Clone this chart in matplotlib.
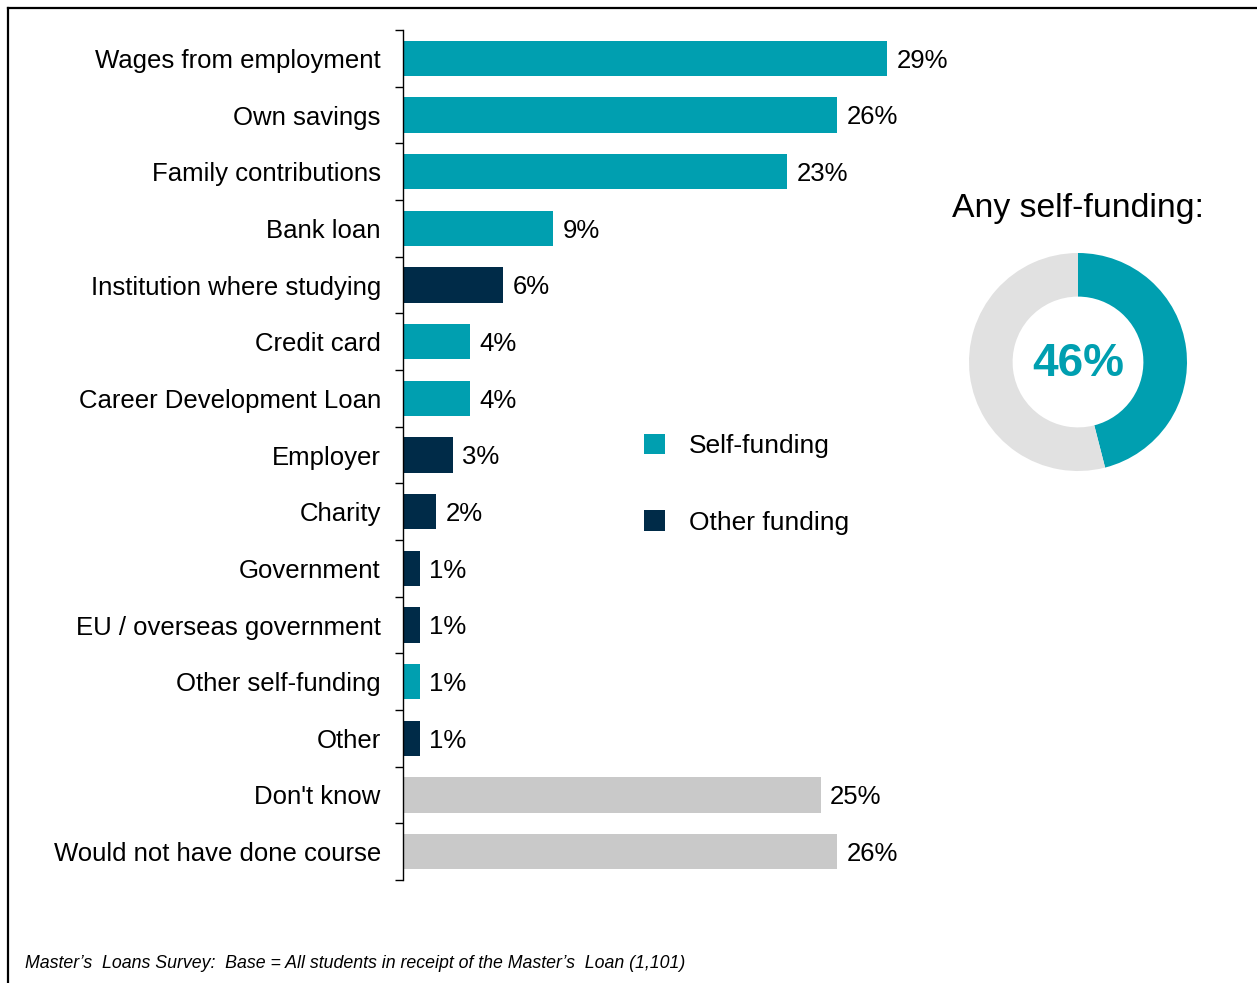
import numpy as np
import matplotlib
matplotlib.use("Agg")
import matplotlib.pyplot as plt
from matplotlib.lines import Line2D
from matplotlib.patches import Patch

plt.rcParams["font.family"] = ["Liberation Sans", "DejaVu Sans"]

# ─────────────────────────────────────────────
# DATA
# ─────────────────────────────────────────────
categories = [
    "Wages from employment", "Own savings", "Family contributions", "Bank loan",
    "Institution where studying", "Credit card", "Career Development Loan",
    "Employer", "Charity", "Government", "EU / overseas government",
    "Other self-funding", "Other", "Don't know", "Would not have done course",
]
values = [29, 26, 23, 9, 6, 4, 4, 3, 2, 1, 1, 1, 1, 25, 26]
groups = ["self", "self", "self", "self", "other", "self", "self",
          "other", "other", "other", "other", "self", "other", "none", "none"]

donut_values = [46, 54]
donut_label = "46%"

TEAL = "#009FB0"
NAVY = "#002B48"
GREY = "#C9C9C9"
LIGHT = "#E1E1E1"
colour_map = {"self": TEAL, "other": NAVY, "none": GREY}

W, H = 1257, 983
fig = plt.figure(figsize=(W / 100, H / 100), dpi=100)

# ─────────────────────────────────────────────
# BAR CHART
# ─────────────────────────────────────────────
ax = fig.add_axes([403 / W, 1 - 880 / H, 501 / W, 850 / H])
y = np.arange(len(categories))
ax.barh(y, values, height=0.62, color=[colour_map[g] for g in groups])
for yi, v in zip(y, values):
    ax.text(v + 0.55, yi + 0.04, f"{v}%", va="center", ha="left", fontsize=18.5)

ax.set_xlim(0, 30)
ax.set_ylim(len(categories) - 0.5, -0.5)
ax.set_yticks(y)
ax.set_yticklabels(categories, fontsize=18.5)
ax.set_yticks(np.arange(-0.5, len(categories)), minor=True)
ax.tick_params(axis="y", which="major", length=0, pad=16)
ax.tick_params(axis="y", which="minor", length=6, width=1, direction="out")
ax.set_xticks([])
for s in ["top", "right", "bottom"]:
    ax.spines[s].set_visible(False)
ax.spines["left"].set_linewidth(1)

# legend
handles = [Patch(facecolor=TEAL, label="Self-funding"),
           Patch(facecolor=NAVY, label="Other funding")]
fig.legend(handles=handles, loc="upper left", bbox_to_anchor=(620 / W, 1 - 410 / H),
           frameon=False, fontsize=19, handlelength=0.82, handleheight=0.82,
           handletextpad=0.9, labelspacing=1.98)

# ─────────────────────────────────────────────
# DONUT
# ─────────────────────────────────────────────
R = 109
dax = fig.add_axes([(1078 - R) / W, 1 - (362 + R) / H, 2 * R / W, 2 * R / H])
dax.pie(donut_values, colors=[TEAL, LIGHT], startangle=90, counterclock=False,
        radius=1.0, wedgeprops=dict(width=0.40, edgecolor="none"))
dax.set_xlim(-1, 1)
dax.set_ylim(-1, 1)
dax.set_aspect("equal")
dax.text(0, -0.02, donut_label, ha="center", va="center", fontsize=33,
         fontweight="bold", color=TEAL)
fig.text(1078 / W, 1 - 209 / H, "Any self-funding:", ha="center", va="center", fontsize=24.3)

# ─────────────────────────────────────────────
# FRAME + FOOTNOTE
# ─────────────────────────────────────────────
fig.add_artist(Line2D([8 / W, 1], [1 - 8 / H, 1 - 8 / H], color="black", lw=1.6))
fig.add_artist(Line2D([8 / W, 8 / W], [0, 1 - 8 / H], color="black", lw=1.6))
fig.text(25 / W, 1 - 964 / H,
         "Master\u2019s  Loans Survey:  Base = All students in receipt of the Master\u2019s  Loan (1,101)",
         ha="left", va="center", fontsize=12.8, style="italic")

fig.savefig("out.png", dpi=100)
